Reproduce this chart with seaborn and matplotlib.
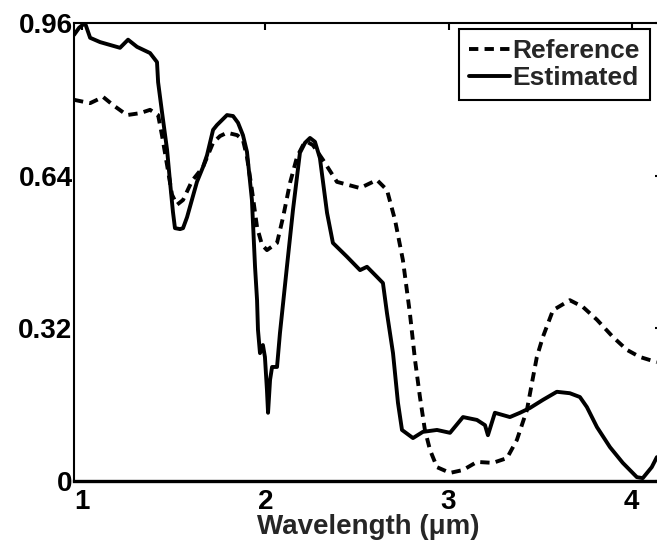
import numpy as np
import pandas as pd
import matplotlib
matplotlib.use("Agg")
import matplotlib.pyplot as plt
import seaborn as sns

# Reflectance spectra: reference vs. estimated
wl_ref = [0.956, 1.044, 1.115, 1.169, 1.245, 1.316, 1.371, 1.415, 1.436, 1.464,
          1.491, 1.518, 1.551, 1.600, 1.660, 1.715, 1.753, 1.791, 1.846, 1.878,
          1.900, 1.927, 1.955, 1.982, 2.009, 2.064, 2.097, 2.135, 2.173, 2.206,
          2.228, 2.260, 2.315, 2.391, 2.517, 2.609, 2.664, 2.708, 2.751, 2.789,
          2.817, 2.844, 2.871, 2.899, 2.937, 3.008, 3.079, 3.155, 3.242, 3.319,
          3.373, 3.428, 3.455, 3.482, 3.515, 3.570, 3.662, 3.733, 3.810, 3.897,
          3.973, 4.044, 4.137]
refl_ref = [0.799, 0.792, 0.805, 0.788, 0.767, 0.771, 0.778, 0.767, 0.725, 0.662,
            0.600, 0.579, 0.589, 0.629, 0.658, 0.709, 0.723, 0.730, 0.725, 0.715,
            0.679, 0.610, 0.532, 0.495, 0.484, 0.499, 0.553, 0.625, 0.679, 0.704,
            0.711, 0.704, 0.673, 0.627, 0.614, 0.631, 0.610, 0.547, 0.463, 0.352,
            0.254, 0.176, 0.107, 0.065, 0.029, 0.017, 0.023, 0.040, 0.038, 0.048,
            0.086, 0.149, 0.205, 0.260, 0.302, 0.358, 0.379, 0.365, 0.338, 0.302,
            0.275, 0.260, 0.249]

wl_est = [0.956, 0.984, 1.016, 1.044, 1.098, 1.207, 1.251, 1.300, 1.371, 1.409,
          1.415, 1.436, 1.464, 1.480, 1.496, 1.507, 1.535, 1.551, 1.573, 1.627,
          1.660, 1.682, 1.715, 1.736, 1.791, 1.824, 1.851, 1.878, 1.900, 1.927,
          1.944, 1.955, 1.960, 1.971, 1.987, 1.998, 2.009, 2.015, 2.026, 2.037,
          2.064, 2.080, 2.118, 2.151, 2.189, 2.217, 2.244, 2.271, 2.298, 2.337,
          2.369, 2.446, 2.517, 2.555, 2.609, 2.642, 2.664, 2.697, 2.724, 2.746,
          2.806, 2.860, 2.937, 3.008, 3.079, 3.155, 3.199, 3.215, 3.253, 3.335,
          3.390, 3.444, 3.515, 3.591, 3.662, 3.717, 3.755, 3.810, 3.881, 3.951,
          4.028, 4.060, 4.109, 4.137]
refl_est = [0.935, 0.950, 0.960, 0.929, 0.920, 0.908, 0.925, 0.910, 0.897, 0.878,
            0.836, 0.774, 0.694, 0.627, 0.564, 0.530, 0.528, 0.530, 0.553, 0.627,
            0.658, 0.683, 0.736, 0.746, 0.767, 0.765, 0.751, 0.725, 0.690, 0.589,
            0.449, 0.379, 0.317, 0.268, 0.285, 0.260, 0.191, 0.143, 0.212, 0.239,
            0.239, 0.310, 0.449, 0.568, 0.688, 0.709, 0.719, 0.711, 0.677, 0.562,
            0.499, 0.470, 0.442, 0.449, 0.428, 0.415, 0.352, 0.268, 0.164, 0.107,
            0.090, 0.103, 0.107, 0.101, 0.134, 0.128, 0.117, 0.096, 0.143, 0.134,
            0.143, 0.153, 0.170, 0.187, 0.184, 0.176, 0.155, 0.113, 0.071, 0.038,
            0.008, 0.006, 0.029, 0.050]

series_names = ["Reference", "Estimated"]
x_ticks = [1, 2, 3, 4]
y_ticks = [0, 0.32, 0.64, 0.96]
y_tick_labels = ["0", "0.32", "0.64", "0.96"]

df = pd.concat([
    pd.DataFrame({"wl": wl_ref, "refl": refl_ref, "series": series_names[0]}),
    pd.DataFrame({"wl": wl_est, "refl": refl_est, "series": series_names[1]}),
], ignore_index=True)

sns.set_theme(style="white")
plt.rcParams["font.family"] = ["Liberation Sans", "DejaVu Sans"]
plt.rcParams["font.weight"] = "bold"

LW = 2.8
FS = 20

fig = plt.figure(figsize=(6.57, 5.49), dpi=100)
ax = fig.add_axes([74 / 657, 68 / 549, (662 - 74) / 657, (481 - 23) / 549])

sns.lineplot(
    data=df, x="wl", y="refl", style="series", style_order=series_names,
    dashes={"Reference": (2.4, 1.6), "Estimated": ""},
    color="black", linewidth=LW, estimator=None, sort=False, ax=ax,
)

ax.set_xlim(0.956, 4.165)
ax.set_ylim(0, 0.96)
ax.set_xticks(x_ticks)
ax.set_xticklabels([str(t) for t in x_ticks])
ax.set_yticks(y_ticks)
ax.set_yticklabels(y_tick_labels)
ax.tick_params(axis="both", direction="in", length=5, width=1.5, colors="black",
               labelsize=FS, top=True, right=True)
ax.tick_params(axis="x", pad=6)
ax.tick_params(axis="y", pad=1)
for lab in ax.get_xticklabels() + ax.get_yticklabels():
    lab.set_fontweight("bold")
for sp in ax.spines.values():
    sp.set_visible(True)
    sp.set_color("black")
    sp.set_linewidth(1.5)
ax.spines["bottom"].set_linewidth(2.4)

ax.set_xlabel("Wavelength (\u03bcm)", fontsize=FS, fontweight="bold", labelpad=-1)
ax.set_ylabel("")

handles, labels = ax.get_legend_handles_labels()
leg = ax.legend(handles, labels, loc="upper left",
                bbox_to_anchor=(459 / 657, 1 - 29 / 549), bbox_transform=fig.transFigure,
                frameon=True, fancybox=False, edgecolor="black", framealpha=1,
                fontsize=19, handlelength=1.55, handletextpad=0.1,
                borderpad=0.38, labelspacing=0.12, borderaxespad=0)
leg.get_frame().set_linewidth(1.5)
for t in leg.get_texts():
    t.set_fontweight("bold")
for h in leg.get_lines():
    h.set_linewidth(LW)

fig.savefig("out.png", dpi=100)
